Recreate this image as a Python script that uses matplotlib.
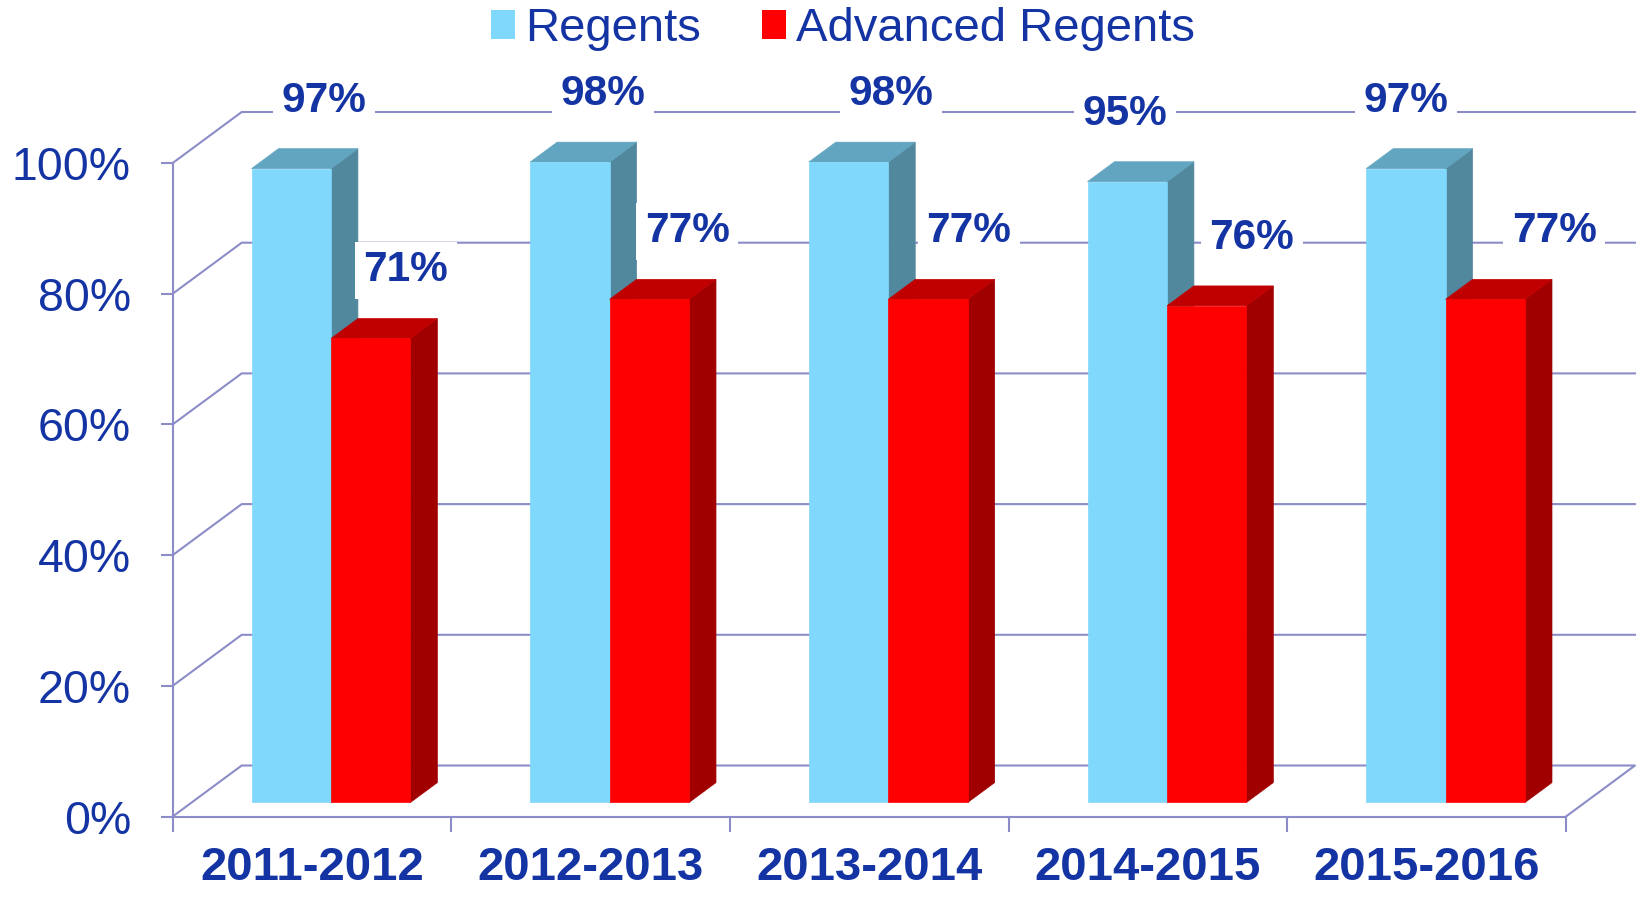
import matplotlib
matplotlib.use('Agg')
import matplotlib.pyplot as plt
from matplotlib.patches import Polygon, Patch

# data
years = ['2011-2012', '2012-2013', '2013-2014', '2014-2015', '2015-2016']
regents = [97, 98, 98, 95, 97]
advanced = [71, 77, 77, 76, 77]
yticks = [0, 20, 40, 60, 80, 100]

# label nudges in px (labels were hand placed in the original)
reg_nudge = [33, 33, 42, -2, 0]
adv_nudge = [35, 38, 41, 45, 69]

TXT = '#1434A4'
GRID = '#8C8CC8'
REG = ('#80D8FC', '#62A5C0', '#52889E')   # front, top, side
ADV = ('#FF0000', '#C00000', '#A00000')

plt.rcParams['font.family'] = ['Liberation Sans', 'DejaVu Sans']

W, H = 1638, 899
fig = plt.figure(figsize=(W / 100, H / 100), dpi=100)
x0p, x1p, y0p, y1p = 172.7, 1566, 816.5, 163
ax = fig.add_axes([x0p / W, 1 - y0p / H, (x1p - x0p) / W, (y0p - y1p) / H])
ax.set_xlim(0, 5)
ax.set_ylim(0, 100)

px_x = 5 / (x1p - x0p)
px_y = 100 / (y0p - y1p)
DX, DY = 69 * px_x, 51 * px_y      # depth of the box
d0, dd = 0.275, 0.39               # bar front position / bar thickness (fraction of depth)
w = 0.285                          # bar width

# back wall, left wall, floor
for g in yticks[1:]:
    ax.plot([0, DX, 5 + DX], [g, g + DY, g + DY], color=GRID, lw=1.5,
            clip_on=False, zorder=1)
ax.plot([0, DX, 5 + DX, 5], [0, DY, DY, 0], color=GRID, lw=1.5,
        clip_on=False, zorder=1)

for s in ['top', 'right']:
    ax.spines[s].set_visible(False)
for s in ['left', 'bottom']:
    ax.spines[s].set_color(GRID)
    ax.spines[s].set_linewidth(1.5)

ax.set_yticks(yticks)
ax.set_yticklabels([f'{t}%' for t in yticks])
ax.tick_params(axis='y', length=8.6, width=1.5, color=GRID, pad=21.5,
               labelsize=33.5, labelcolor=TXT)
ax.set_xticks(range(6))
ax.set_xticklabels([])
ax.tick_params(axis='x', which='major', length=10.8, width=1.5, color=GRID)
ax.set_xticks([i + 0.5 for i in range(5)], minor=True)
ax.set_xticklabels(years, minor=True, fontsize=34, fontweight='bold', color=TXT)
ax.tick_params(axis='x', which='minor', length=0, pad=21)


def bar3d(xl, v, cols, z):
    ox, oy = d0 * DX, d0 * DY
    bx, by = dd * DX, dd * DY
    xa, xb = xl + ox, xl + w + ox
    side = [(xb, oy), (xb + bx, oy + by), (xb + bx, oy + v + by), (xb, oy + v)]
    top = [(xa, oy + v), (xb, oy + v), (xb + bx, oy + v + by), (xa + bx, oy + v + by)]
    front = [(xa, oy), (xb, oy), (xb, oy + v), (xa, oy + v)]
    for pts, c in [(side, cols[2]), (top, cols[1]), (front, cols[0])]:
        ax.add_patch(Polygon(pts, closed=True, fc=c, ec=c, lw=0.5,
                             clip_on=False, zorder=z))


for i in range(5):
    bar3d(i + 0.5 - w, regents[i], REG, 3)
    bar3d(i + 0.5, advanced[i], ADV, 4)

lab_kw = dict(ha='center', va='center', fontsize=30.5, fontweight='bold',
              color=TXT, zorder=6, clip_on=False,
              bbox=dict(boxstyle='square,pad=0.2', fc='white', ec='none'))
for i in range(5):
    xr = i + 0.5 - w / 2 + d0 * DX + reg_nudge[i] * px_x
    ax.text(xr, regents[i] + d0 * DY + 68 * px_y, f'{regents[i]}%', **lab_kw)
    xa = i + 0.5 + w / 2 + d0 * DX + adv_nudge[i] * px_x
    ax.text(xa, advanced[i] + d0 * DY + 68 * px_y, f'{advanced[i]}%', **lab_kw)

handles = [Patch(fc=REG[0], ec='none'), Patch(fc=ADV[0], ec='none')]
fig.legend(handles, ['Regents', 'Advanced Regents'], loc='center',
           bbox_to_anchor=(843 / W, 1 - 29 / H), ncol=2, frameon=False,
           prop=dict(size=34), labelcolor=TXT,
           handlelength=0.5, handleheight=0.55,
           handletextpad=0.21, columnspacing=1.3, borderpad=0, borderaxespad=0)

fig.savefig('out.png', dpi=100)
